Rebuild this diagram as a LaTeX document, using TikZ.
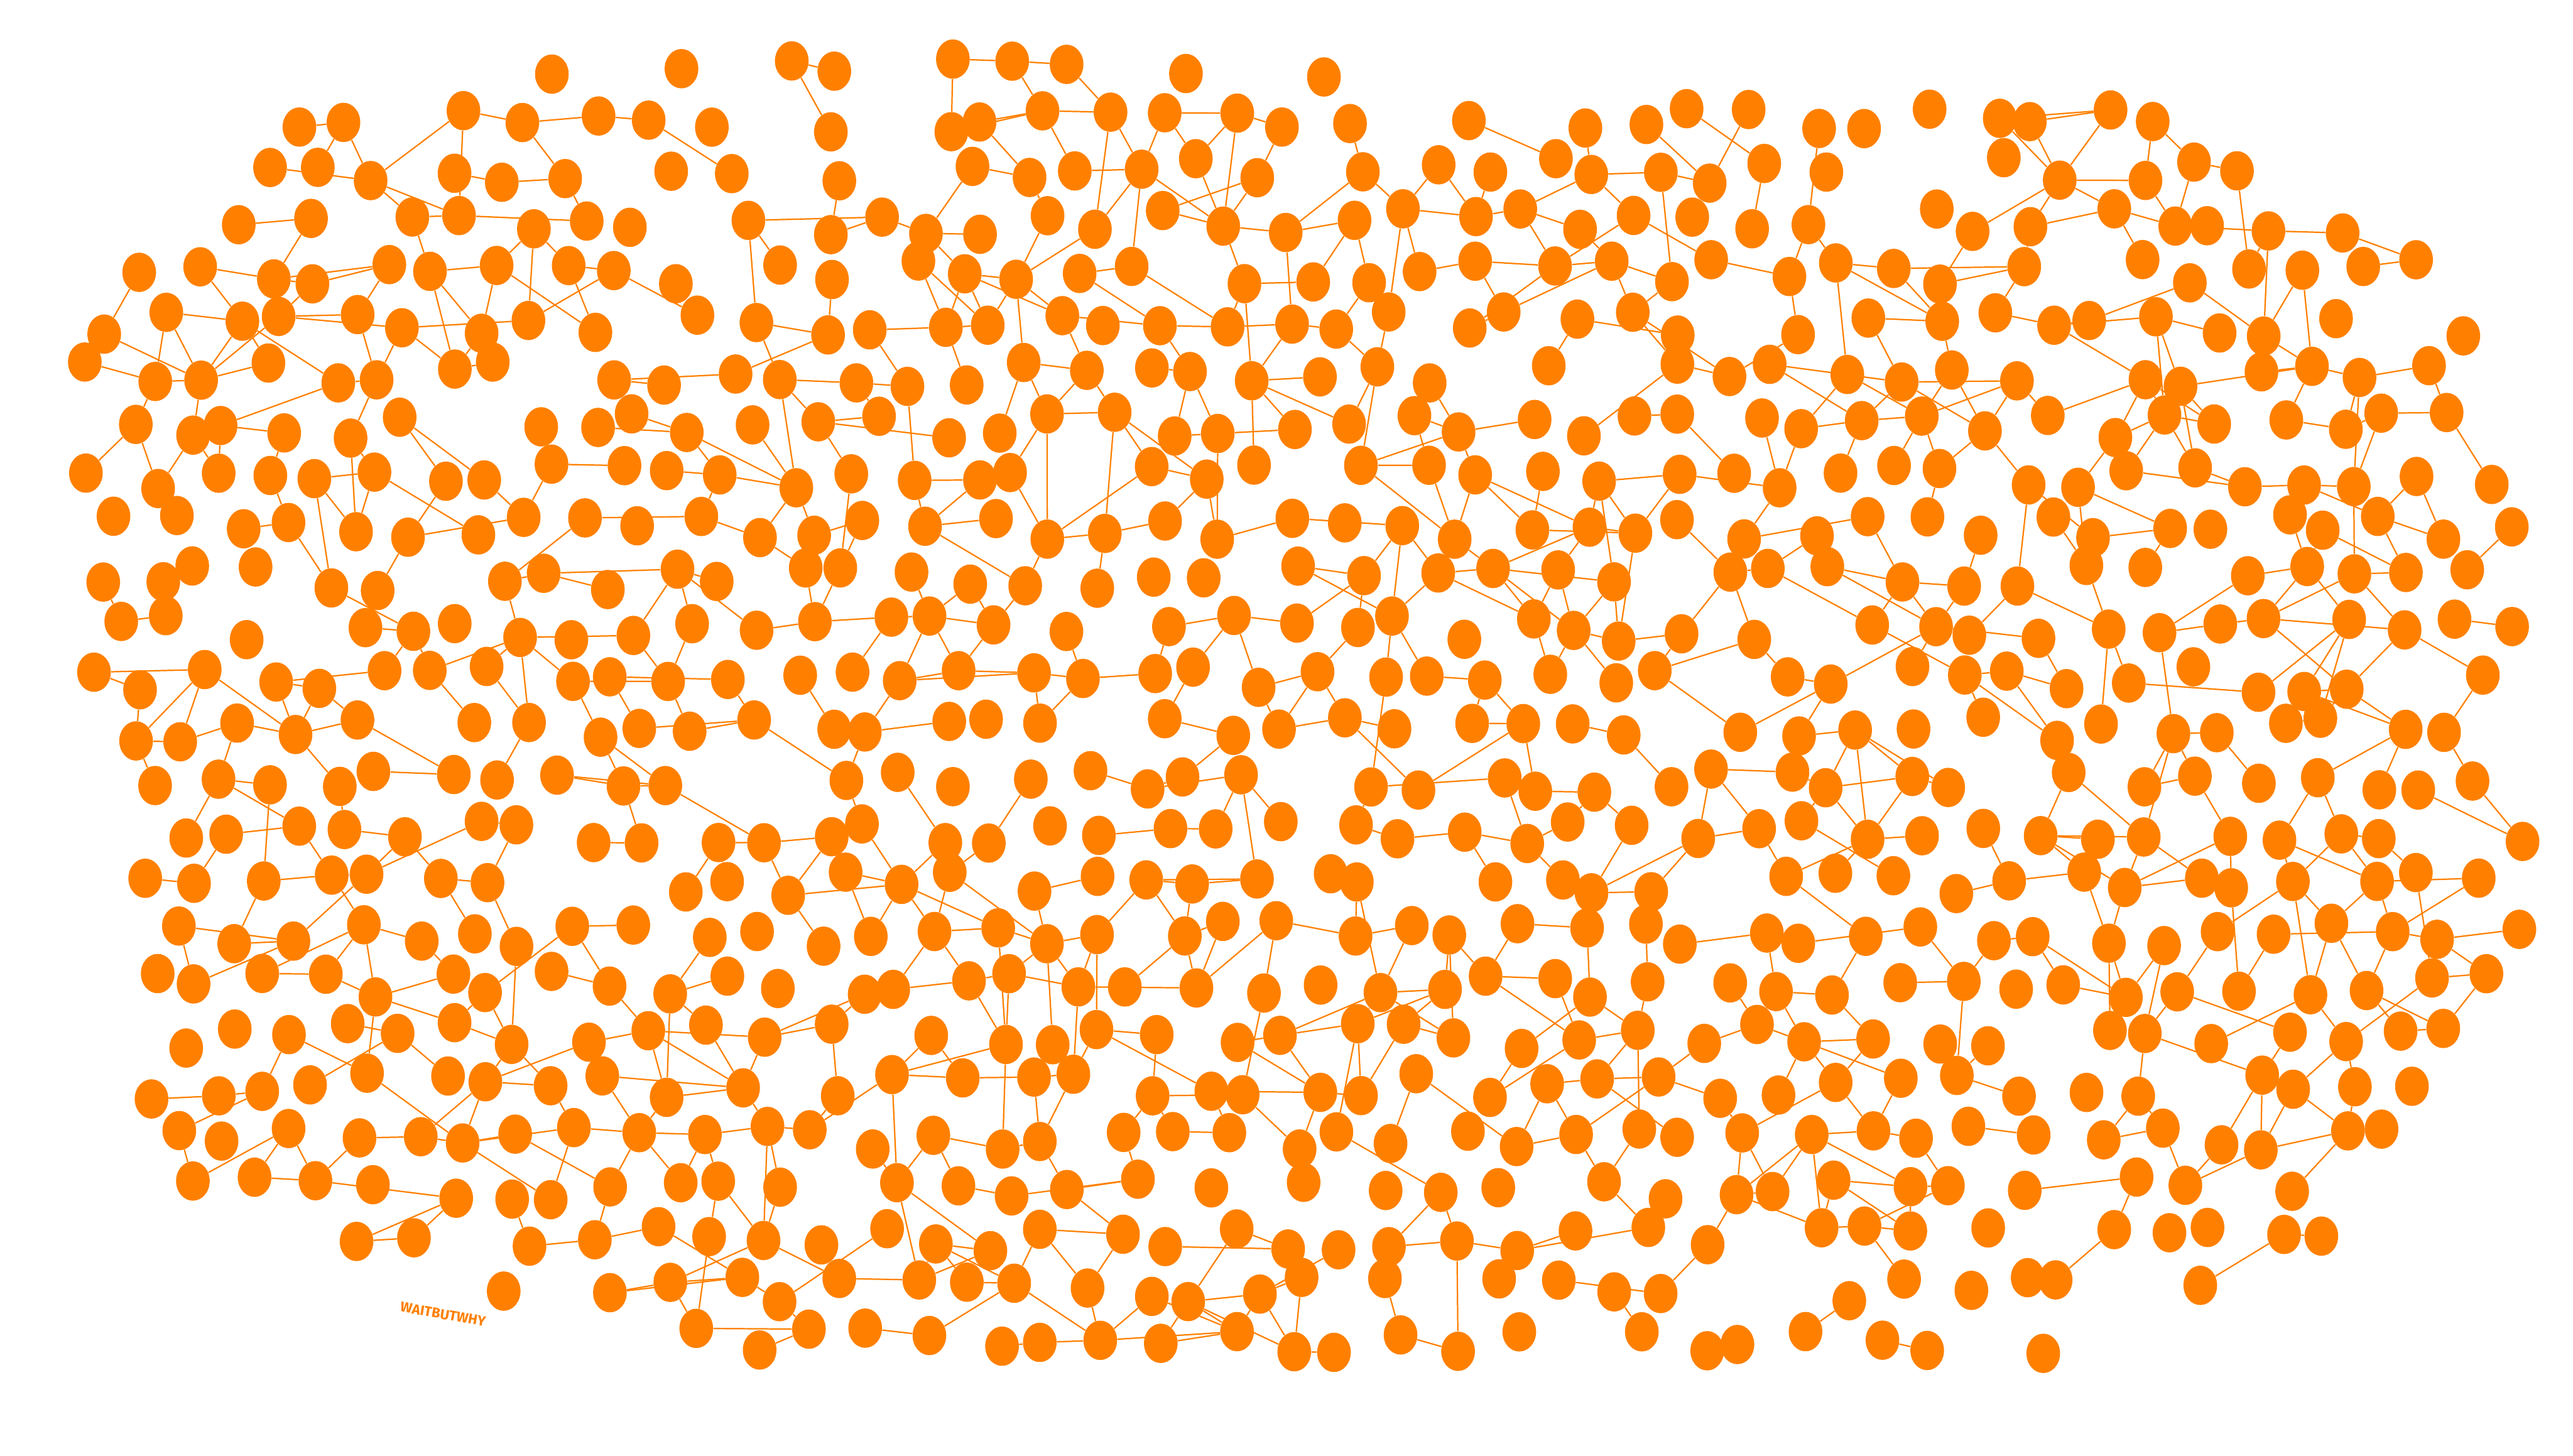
\documentclass[tikz,border=0pt]{standalone}
\usepackage{fontspec}
\setsansfont{Fira Sans}
\usetikzlibrary{shapes.geometric,backgrounds}
\definecolor{wbworange}{RGB}{255,128,0}
\tikzset{
  neuron/.style={ellipse, fill=wbworange, inner sep=0pt, minimum width=20.5pt, minimum height=24pt},
  synapse/.style={draw=wbworange, line width=0.85pt},
  credit/.style={text=wbworange, font=\sffamily\bfseries\fontsize{8.5}{8.5}\selectfont, rotate=-10}
}
% draw a link between two neurons with probability #1, if the second exists
\newcommand{\linkif}[3]{%
  \ifcsname pgf@sh@ns@#3\endcsname
    \pgfmathparse{rnd<#1 ? 1 : 0}%
    \ifdim\pgfmathresult pt>0.5pt \draw[synapse] (#2) -- (#3);\fi
  \fi}

\begin{document}
\begin{tikzpicture}[x=1pt, y=-1pt]
  \useasboundingbox (0,0) rectangle (1568,887);
  \pgfmathsetseed{11}
  % rows of neurons: row / left edge / right edge / drop rate
  \foreach \row/\lo/\hi/\drop in {0/300/890/0.55, 1/170/1345/0.2, 2/150/1375/0.08,
      3/110/1425/0.05, 4/75/1480/0.05, 5/55/1500/0.05, 6/40/1495/0.05,
      7/70/1500/0.05, 8/50/1512/0.05, 9/65/1530/0.05, 10/35/1545/0.05,
      11/20/1538/0.05, 12/30/1530/0.05, 13/55/1525/0.05, 14/70/1528/0.05,
      15/95/1535/0.05, 16/85/1535/0.05, 17/85/1535/0.05, 18/75/1530/0.05,
      19/75/1525/0.05, 20/80/1500/0.05, 21/90/1475/0.06, 22/125/1462/0.08,
      23/155/1448/0.1, 24/245/1435/0.12, 25/360/1385/0.28} {
    \foreach \col in {0,...,43} {
      \pgfmathsetmacro\bx{20+35.5*\col+17.75*mod(\row,2)}
      \pgfmathtruncatemacro\keep{(\bx>=\lo)&&(\bx<=\hi)&&(rnd>\drop)}
      \ifnum\keep=1
        \node[neuron] (n-\row-\col) at ({\bx+20*rnd-10},{42+31*\row+16*rnd-8}) {};
      \fi
    }
  }
  \begin{scope}[on background layer]
    \foreach \row in {0,...,25} {
      \foreach \col in {0,...,43} {
        \ifcsname pgf@sh@ns@n-\row-\col\endcsname
          \pgfmathtruncatemacro\nextrow{\row+1}
          \pgfmathtruncatemacro\skiprow{\row+2}
          \pgfmathtruncatemacro\colR{\col+1}
          \pgfmathtruncatemacro\colRR{\col+2}
          \pgfmathtruncatemacro\colL{\col-1+mod(\row,2)}
          \pgfmathtruncatemacro\colD{\col+mod(\row,2)}
          \pgfmathtruncatemacro\colF{\col+1+mod(\row,2)}
          \pgfmathtruncatemacro\colB{\col-2+mod(\row,2)}
          \linkif{0.40}{n-\row-\col}{n-\row-\colR}
          \linkif{0.34}{n-\row-\col}{n-\nextrow-\colL}
          \linkif{0.34}{n-\row-\col}{n-\nextrow-\colD}
          \linkif{0.10}{n-\row-\col}{n-\row-\colRR}
          \linkif{0.10}{n-\row-\col}{n-\nextrow-\colF}
          \linkif{0.08}{n-\row-\col}{n-\nextrow-\colB}
          \linkif{0.08}{n-\row-\col}{n-\skiprow-\col}
        \fi
      }
    }
  \end{scope}
  \node[credit] (credit) at (270,801) {WAITBUTWHY};
\end{tikzpicture}
\end{document}
